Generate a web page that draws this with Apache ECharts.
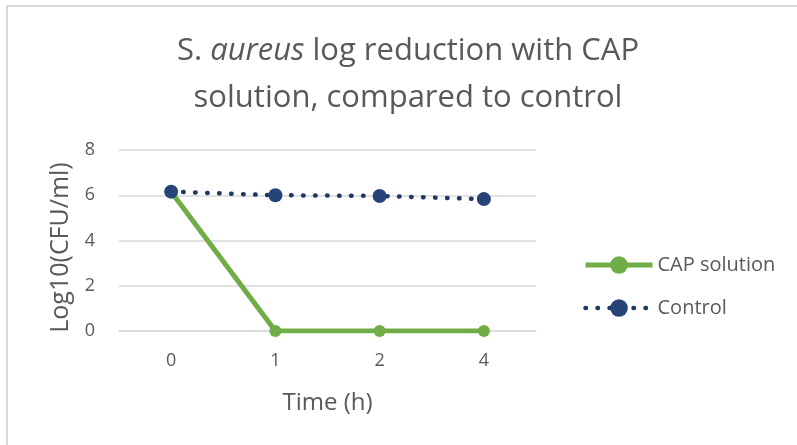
<!DOCTYPE html>
<html>
<head>
<meta charset="utf-8">
<script src="https://cdn.jsdelivr.net/npm/echarts@6/dist/echarts.min.js"></script>
<style>html,body{margin:0;padding:0;background:#fff}#c{width:797px;height:445px}</style>
</head>
<body>
<div id="c"></div>
<script>
const categories = ['0', '1', '2', '4'];
const capSolution = [6.16, 0, 0, 0];
const control = [6.16, 6.0, 5.97, 5.83];
const yTicks = [0, 2, 4, 6, 8];

const FONT = 'Open Sans';
const chart = echarts.init(document.getElementById('c'));
chart.setOption({
  animation: false,
  backgroundColor: '#fff',
  graphic: [{
    type: 'rect', shape: { x: 7, y: 6, width: 800, height: 450 },
    style: { fill: 'none', stroke: '#d9d9d9', lineWidth: 2 }, silent: true
  }],
  title: {
    text: '{n|S. }{i|aureus}{n| log reduction with CAP}\n{n|solution, compared to control}',
    left: 403, textAlign: 'center', top: 23,
    textStyle: {
      fontWeight: 'normal',
      rich: {
        n: { fontFamily: FONT, fontSize: 31, fontWeight: 'normal', color: '#595959', lineHeight: 47 },
        i: { fontFamily: FONT, fontSize: 31, fontWeight: 'normal', color: '#595959', fontStyle: 'italic', lineHeight: 47 }
      }
    }
  },
  grid: { left: 119, top: 150, width: 417, height: 181 },
  legend: {
    orient: 'vertical', left: 578, top: 250, itemGap: 23,
    itemWidth: 67, itemHeight: 22,
    textStyle: { fontFamily: FONT, fontSize: 20, color: '#595959' },
    data: [
      { name: 'CAP solution', lineStyle: { width: 5 } },
      { name: 'Control', lineStyle: { width: 4.5 } }
    ]
  },
  xAxis: {
    type: 'category', data: categories,
    name: 'Time (h)', nameLocation: 'middle', nameGap: 60,
    nameTextStyle: { fontFamily: FONT, fontSize: 24, color: '#595959' },
    axisLine: { show: true, lineStyle: { color: '#d9d9d9', width: 1.5 } },
    axisTick: { show: false },
    axisLabel: { fontFamily: FONT, fontSize: 18, color: '#595959', margin: 21 }
  },
  yAxis: {
    type: 'value', min: yTicks[0], max: yTicks[yTicks.length - 1], interval: 2,
    name: 'Log10(CFU/ml)', nameLocation: 'middle', nameGap: 44,
    nameTextStyle: { fontFamily: FONT, fontSize: 25, color: '#595959', padding: [0, 14, 0, 0] },
    axisLine: { show: false }, axisTick: { show: false },
    axisLabel: { fontFamily: FONT, fontSize: 18, color: '#595959', margin: 24 },
    splitLine: { lineStyle: { color: '#d9d9d9', width: 1.5 } }
  },
  series: [
    {
      name: 'Control', type: 'line', data: control,
      symbol: 'circle', symbolSize: 14,
      itemStyle: { color: '#264478' },
      lineStyle: { color: '#1f3864', width: 4.5, type: [0.5, 11.5], cap: 'round' },
      z: 2
    },
    {
      name: 'CAP solution', type: 'line', data: capSolution,
      symbol: 'circle', symbolSize: 12,
      itemStyle: { color: '#70ad47' },
      lineStyle: { color: '#70ad47', width: 5 },
      z: 1
    }
  ]
});
</script>
</body>
</html>
